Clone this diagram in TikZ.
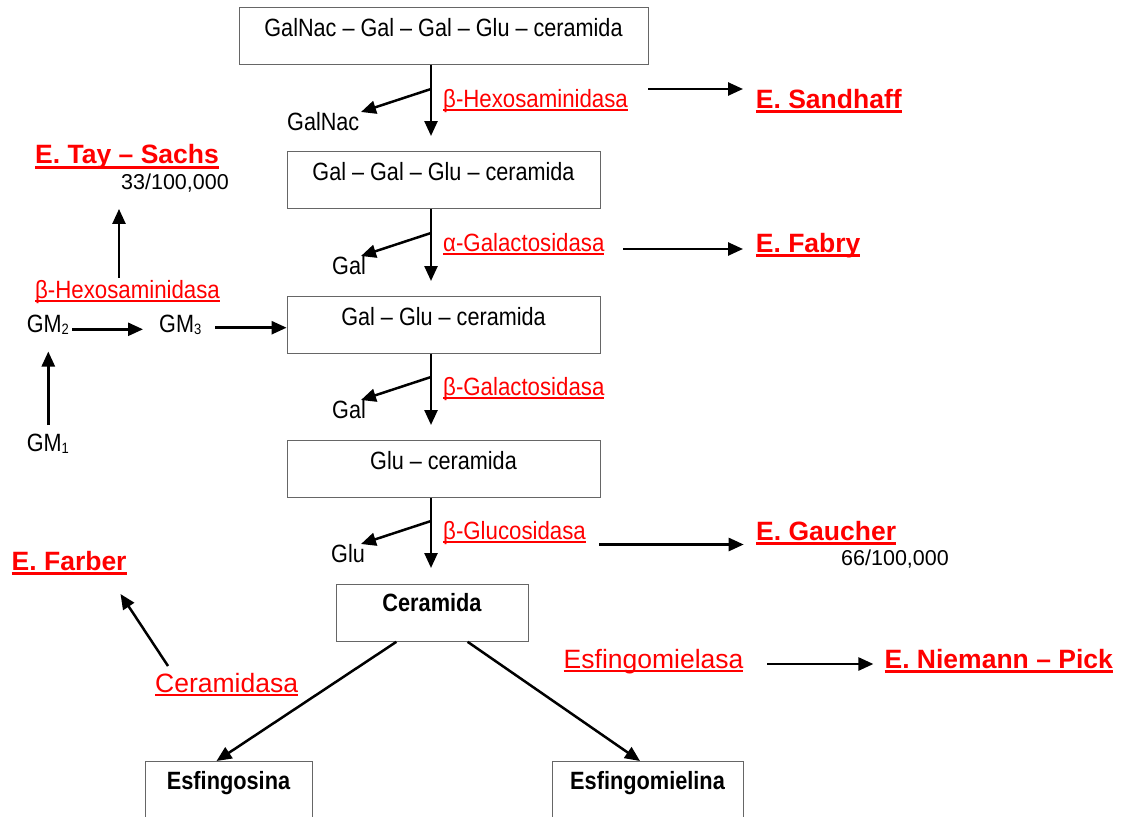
\documentclass[tikz,border=0pt]{standalone}
\usepackage{fontspec}
\setmainfont{Liberation Sans}
\newfontfamily\nrm[FakeStretch=0.865]{Liberation Sans}
\newfontfamily\nre[FakeStretch=0.89]{Liberation Sans}
\newfontfamily\nbx[FakeStretch=0.87]{Liberation Sans}
\usetikzlibrary{arrows.meta}
\newcommand\fR{\nrm\fontsize{25}{29}\selectfont}
\newcommand\fE{\nre\fontsize{25}{29}\selectfont}
\newcommand\fL{\fontsize{26.5}{31}\selectfont}
\newcommand\fB{\nbx\bfseries\fontsize{25}{30}\selectfont}
\newcommand\fD{\bfseries\fontsize{26.5}{31}\selectfont}
\newcommand\fN{\fontsize{21.5}{25}\selectfont}
\newcommand\ulr[1]{\setbox0\hbox{#1}\rlap{\rule[-4pt]{\wd0}{2pt}}\box0}
\newcommand\ulb[1]{\setbox0\hbox{#1}\rlap{\rule[-5pt]{\wd0}{2.7pt}}\box0}
\newcommand\sbs[1]{\raisebox{-2pt}{\fontsize{15}{15}\selectfont #1}}
\tikzset{
  box/.style={draw=black!60, line width=0.8pt, inner xsep=0pt, inner ysep=0pt, anchor=north},
  lab/.style={font=\fR, inner sep=0pt, anchor=base west},
  enz/.style={font=\fE, text=red, inner sep=0pt, anchor=base west},
  enzL/.style={font=\fL, text=red, inner sep=0pt, anchor=base west},
  dis/.style={font=\fD, text=red, inner sep=0pt, anchor=base west},
  num/.style={font=\fN, inner sep=0pt, anchor=base west},
  arr/.style={line width=2.5pt, -{Triangle[length=15pt,width=13pt]}},
}
\begin{document}
\begin{tikzpicture}[x=1pt,y=-1pt]
\useasboundingbox (0,0) rectangle (1123,816);
% boxes
\node[box, font=\fR, minimum width=409, text height=29, text depth=28] (b1) at (443.5,7) {GalNac – Gal – Gal – Glu – ceramida};
\node[box, font=\fR, minimum width=313, text height=29, text depth=28] (b2) at (443.5,151) {Gal – Gal – Glu – ceramida};
\node[box, font=\fR, minimum width=313, text height=29, text depth=28] (b3) at (443.5,296) {Gal – Glu – ceramida};
\node[box, font=\fR, minimum width=313, text height=29, text depth=28] (b4) at (443.5,440) {Glu – ceramida};
\node[box, font=\fB, minimum width=192, text height=27, text depth=30] (b5) at (432,584) {Ceramida};
\node[box, font=\fB, minimum width=167, text height=28, text depth=40] (b6) at (228.5,761) {Esfingosina};
\node[box, font=\fB, minimum width=191, text height=28, text depth=40] (b7) at (647.5,761) {Esfingomielina};
% main vertical arrows
\coordinate (m) at (431,0);
\draw[arr, shorten >=15] (b1.south -| m) -- (b2.north -| m);
\draw[arr, shorten >=15] (b2.south -| m) -- (b3.north -| m);
\draw[arr, shorten >=15] (b3.south -| m) -- (b4.north -| m);
\draw[arr, shorten >=16] (b4.south -| m) -- (b5.north -| m);
% side products
\node[lab] (p1) at (287,130) {GalNac};
\node[lab] (p2) at (332,274) {Gal};
\node[lab] (p3) at (332,418) {Gal};
\node[lab] (p4) at (331,562) {Glu};
\coordinate (s1) at (431,89);  \coordinate (t1) at (361,112);
\coordinate (s2) at (431,233); \coordinate (t2) at (361,256);
\coordinate (s3) at (431,377); \coordinate (t3) at (361,400);
\coordinate (s4) at (431,521); \coordinate (t4) at (361,544);
\draw[arr] (s1) -- (t1);
\draw[arr] (s2) -- (t2);
\draw[arr] (s3) -- (t3);
\draw[arr] (s4) -- (t4);
% enzymes
\node[enz] (e1) at (443,107) {\ulr{β-Hexosaminidasa}};
\node[enz] (e2) at (443,251) {\ulr{α-Galactosidasa}};
\node[enz] (e3) at (443,395) {\ulr{β-Galactosidasa}};
\node[enz] (e4) at (443,539) {\ulr{β-Glucosidasa}};
\node[enzL] (e5) at (563.5,668) {\ulr{Esfingomielasa}};
\node[enzL] (e6) at (155,692) {\ulr{Ceramidasa}};
\node[enz] (e7) at (35,298) {\ulr{β-Hexosaminidasa}};
% diseases
\node[dis] (d1) at (755.7,108) {\ulb{E. Sandhaff}};
\node[dis] (d2) at (755.7,252) {\ulb{E. Fabry}};
\node[dis] (d3) at (756,540) {\ulb{E. Gaucher}};
\node[dis] (d4) at (884.4,668) {\ulb{E. Niemann – Pick}};
\node[dis] (d5) at (35,163.5) {\ulb{E. Tay – Sachs}};
\node[dis] (d6) at (11.5,570) {\ulb{E. Farber}};
\node[num] (n1) at (121,189) {33/100,000};
\node[num] (n2) at (841,565) {66/100,000};
% disease arrows
\coordinate (a1) at (648,89);
\coordinate (a2) at (623,249);
\coordinate (a3) at (599,544.5);
\coordinate (a4) at (767,664);
\draw[arr, shorten >=12.7] (a1) -- (a1 -| d1.west);
\draw[arr, shorten >=12.7] (a2) -- (a2 -| d2.west);
\draw[arr, shorten >=12.3] (a3) -- (a3 -| d3.west);
\draw[arr, shorten >=11] (a4) -- (a4 -| d4.west);
% gangliosides
\node[lab] (gm2) at (26.7,332.3) {GM\sbs{2}};
\node[lab] (gm3) at (159,332.3) {GM\sbs{3}};
\node[lab] (gm1) at (26.7,451.7) {GM\sbs{1}};
\draw[arr, shorten <=3, shorten >=16] ([yshift=3pt]gm2.base east) -- ([yshift=3pt]gm3.base west);
\coordinate (g3) at (215,327.7);
\draw[arr] (g3) -- (g3 -| b3.west);
\coordinate (gx) at (48.3,0);
\draw[arr, shorten <=9, shorten >=17] (gm1.north -| gx) -- (gm2.south -| gx);
\coordinate (tx) at (119,0);
\draw[arr, shorten <=2, shorten >=17] (e7.north -| tx) -- (n1.south -| tx);
% farber
\coordinate (f1) at (168,666);
\coordinate (f2) at (120.5,594);
\draw[arr] (f1) -- (f2);
% ceramida branches
\draw[arr] ([xshift=-35.6pt]b5.south) -- ([xshift=-12pt]b6.north);
\draw[arr] ([xshift=35.6pt]b5.south) -- ([xshift=-7.5pt]b7.north);
\end{tikzpicture}
\end{document}
